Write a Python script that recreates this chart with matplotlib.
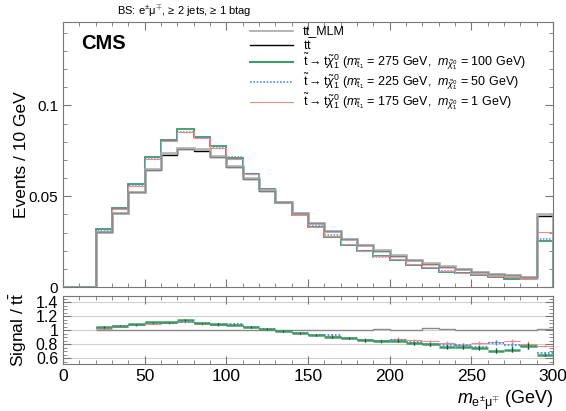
import numpy as np
import matplotlib
matplotlib.use("Agg")
import matplotlib.pyplot as plt
from matplotlib.lines import Line2D
from matplotlib.ticker import MultipleLocator

plt.rcParams["font.family"] = ["Liberation Sans", "DejaVu Sans"]
plt.rcParams["mathtext.fontset"] = "custom"
plt.rcParams["mathtext.rm"] = "Liberation Sans"
plt.rcParams["mathtext.it"] = "Liberation Sans:italic"
plt.rcParams["mathtext.bf"] = "Liberation Sans:bold"

# --- data: 10 GeV bins from 0 to 300 (last bin holds overflow) ---
edges = np.arange(0, 310, 10)

tt = [0, 0, 0.0302, 0.0409, 0.0521, 0.0643, 0.0729, 0.0761, 0.0751, 0.0714,
      0.0659, 0.0595, 0.0530, 0.0468, 0.0410, 0.0355, 0.0306, 0.0263, 0.0230,
      0.0199, 0.0173, 0.0147, 0.0129, 0.0110, 0.0098, 0.0085, 0.0074, 0.0064,
      0.0055, 0.0392]
tt_mlm = [0, 0, 0.0302, 0.0409, 0.0523, 0.0649, 0.0736, 0.0768, 0.0758, 0.0721,
          0.0665, 0.0601, 0.0535, 0.0470, 0.0410, 0.0355, 0.0306, 0.0263, 0.0230,
          0.0202, 0.0175, 0.0148, 0.0133, 0.0113, 0.0099, 0.0085, 0.0074, 0.0064,
          0.0056, 0.0400]
sig_275 = [0, 0, 0.0317, 0.0436, 0.0566, 0.0716, 0.0812, 0.0870, 0.0826, 0.0778,
           0.0712, 0.0624, 0.0541, 0.0463, 0.0394, 0.0331, 0.0277, 0.0233, 0.0197,
           0.0169, 0.0147, 0.0120, 0.0103, 0.0083, 0.0075, 0.0064, 0.0053, 0.0046,
           0.0043, 0.0256]
sig_225 = [0, 0, 0.0313, 0.0431, 0.0561, 0.0711, 0.0809, 0.0855, 0.0826, 0.0768,
           0.0715, 0.0625, 0.0538, 0.0466, 0.0396, 0.0334, 0.0285, 0.0234, 0.0199,
           0.0168, 0.0149, 0.0122, 0.0104, 0.0087, 0.0077, 0.0064, 0.0061, 0.0051,
           0.0042, 0.0267]
sig_175 = [0, 0, 0.0309, 0.0429, 0.0557, 0.0704, 0.0802, 0.0852, 0.0819, 0.0768,
           0.0705, 0.0622, 0.0541, 0.0461, 0.0394, 0.0332, 0.0283, 0.0235, 0.0200,
           0.0171, 0.0152, 0.0126, 0.0109, 0.0090, 0.0078, 0.0069, 0.0062, 0.0054,
           0.0045, 0.0304]

# ratio panel (bins 20..300)
r_mlm = [1.0, 1.0, 1.0, 1.01, 1.01, 1.01, 1.01, 1.01, 1.01, 1.01, 1.01, 1.005,
         1.0, 1.0, 1.0, 1.0, 1.0, 1.015, 1.01, 1.01, 1.03, 1.025, 1.01, 1.005,
         1.0, 1.0, 1.01, 1.02]
r_275 = [1.048, 1.067, 1.086, 1.114, 1.114, 1.148, 1.10, 1.09, 1.08, 1.048,
         1.02, 0.99, 0.962, 0.933, 0.905, 0.886, 0.857, 0.848, 0.852, 0.814,
         0.80, 0.757, 0.767, 0.752, 0.71, 0.724, 0.776, 0.652]
r_225 = [1.035, 1.055, 1.076, 1.105, 1.11, 1.124, 1.10, 1.076, 1.085, 1.05,
         1.015, 0.995, 0.965, 0.94, 0.93, 0.89, 0.865, 0.845, 0.86, 0.83,
         0.805, 0.795, 0.786, 0.757, 0.824, 0.79, 0.771, 0.68]
r_175 = [1.024, 1.05, 1.07, 1.095, 1.10, 1.12, 1.09, 1.075, 1.07, 1.045,
         1.02, 0.985, 0.96, 0.935, 0.925, 0.895, 0.87, 0.86, 0.88, 0.857,
         0.843, 0.82, 0.795, 0.814, 0.833, 0.843, 0.81, 0.776]
r_err = [0.010, 0.008, 0.008, 0.008, 0.008, 0.010, 0.008, 0.008, 0.009, 0.009,
         0.010, 0.010, 0.011, 0.012, 0.013, 0.015, 0.017, 0.019, 0.021, 0.023,
         0.025, 0.027, 0.028, 0.030, 0.033, 0.035, 0.038, 0.015]

labels = [
    "tt_MLM",
    r"$\mathrm{t\bar{t}}$",
    r"$\tilde{\mathrm{t}}\rightarrow \mathrm{t}\tilde{\chi}_1^0$ ($m_{\tilde{\mathrm{t}}_1}$ = 275 GeV,  $m_{\tilde{\chi}_1^0}$ = 100 GeV)",
    r"$\tilde{\mathrm{t}}\rightarrow \mathrm{t}\tilde{\chi}_1^0$ ($m_{\tilde{\mathrm{t}}_1}$ = 225 GeV,  $m_{\tilde{\chi}_1^0}$ = 50 GeV)",
    r"$\tilde{\mathrm{t}}\rightarrow \mathrm{t}\tilde{\chi}_1^0$ ($m_{\tilde{\mathrm{t}}_1}$ = 175 GeV,  $m_{\tilde{\chi}_1^0}$ = 1 GeV)",
]

c_mlm, c_tt = "#a8a8a8", "black"
c_g, c_b, c_r = "#3f9a63", "#4a8fd8", "#f08a8a"
frame = "#777777"

fig = plt.figure(figsize=(5.66, 4.11), dpi=100)
ax = fig.add_axes([0.1113, 0.3017, 0.8657, 0.6448])
rax = fig.add_axes([0.1113, 0.1144, 0.8657, 0.1655])

# --- top panel ---
ax.stairs(tt, edges, color=c_tt, lw=1.0, zorder=3)
ax.stairs(tt_mlm, edges, color=c_mlm, lw=2.0, alpha=0.85, zorder=4)
ax.stairs(sig_275, edges, color=c_g, lw=1.3, zorder=2)
ax.stairs(sig_225, edges, color=c_b, lw=1.1, ls=(0, (1, 1)), zorder=2)
ax.stairs(sig_175, edges, color=c_r, lw=0.8, zorder=2)

ax.set_xlim(0, 300)
ax.set_ylim(0, 0.146)
ax.yaxis.set_minor_locator(MultipleLocator(0.01))
ax.set_yticks([0, 0.05, 0.1])
ax.set_yticklabels(["0", "0.05", "0.1"])
ax.set_ylabel("Events / 10 GeV", fontsize=12.5)
ax.yaxis.set_label_coords(-0.07, 0.5)
ax.tick_params(labelbottom=False)

# legend drawn by hand so the rows sit where the reference has them
styles = [(c_mlm, "-", 1.2), (c_tt, "-", 1.0), (c_g, "-", 1.5),
          (c_b, (0, (1, 1)), 1.2), (c_r, "-", 0.8)]
row_y = [31, 45, 62, 82, 102]
for (c, ls, lw), lab, yp in zip(styles, labels, row_y):
    yf = 1 - yp / 411
    fig.add_artist(Line2D([250 / 566, 293 / 566], [yf, yf], color=c, ls=ls, lw=lw))
    fig.text(303 / 566, yf, lab, fontsize=9.0, ha="left", va="center")

ax.text(0.037, 0.955, "CMS", transform=ax.transAxes, fontsize=14.5,
        fontweight="bold", va="top", ha="left")
fig.text(117 / 566, 1 - 11 / 411, r"BS: e$^{\pm}$μ$^{\mp}$, ≥ 2 jets, ≥ 1 btag",
         fontsize=8, ha="left", va="center")

# --- ratio panel ---
centers = (edges[2:-1] + edges[3:]) / 2
lo, hi = edges[2:-1], edges[3:]
for yv in [0.6, 0.8, 1.0, 1.2, 1.4]:
    rax.axhline(yv, color="#d0d0d0", lw=0.8, zorder=0)
rax.stairs(r_mlm, edges[2:], baseline=None, color="#8a8a8a", lw=1.0, zorder=2)
for r, c, ls, lw in [(r_175, c_r, "-", 0.8), (r_225, c_b, (0, (1, 1)), 1.3),
                     (r_275, c_g, "-", 1.8)]:
    r = np.array(r)
    e = np.array(r_err)
    rax.hlines(r, lo, hi, colors=c, linestyles=ls, lw=lw, zorder=3)
    rax.vlines(centers, r - e, r + e, colors=c, lw=1.0, zorder=4)
rax.vlines(centers, np.array(r_275) - np.array(r_err), np.array(r_275) + np.array(r_err),
           colors="#1f4f35", lw=0.8, zorder=5)

rax.set_xlim(0, 300)
rax.set_ylim(0.52, 1.49)
rax.set_yticks([0.6, 0.8, 1.0, 1.2, 1.4])
rax.set_yticklabels(["0.6", "0.8", "1", "1.2", "1.4"])
rax.yaxis.set_minor_locator(MultipleLocator(0.05))
rax.set_xticks([0, 50, 100, 150, 200, 250, 300])
rax.xaxis.set_minor_locator(MultipleLocator(10))
rax.set_ylabel(r"Signal / $\mathrm{t\bar{t}}$", fontsize=12.5)
rax.yaxis.set_label_coords(-0.07, 0.5)
rax.set_xlabel(r"$m_{\mathrm{e^{\pm}\mu^{\mp}}}$ (GeV)", fontsize=13)
rax.xaxis.set_label_coords(1.0, -0.36)
rax.xaxis.label.set_horizontalalignment("right")
rax.xaxis.label.set_verticalalignment("top")
ax.xaxis.set_minor_locator(MultipleLocator(10))
ax.set_xticks([0, 50, 100, 150, 200, 250, 300])

for a, lab in [(ax, 11), (rax, 12.5)]:
    a.tick_params(which="both", direction="in", top=True, right=True,
                  colors=frame, labelcolor="black", labelsize=lab)
    a.tick_params(which="major", length=6)
    a.tick_params(which="minor", length=3)
    for s in a.spines.values():
        s.set_color(frame)
        s.set_linewidth(0.8)
rax.tick_params(axis="y", labelsize=11.5)

fig.savefig("out.png", dpi=100)
